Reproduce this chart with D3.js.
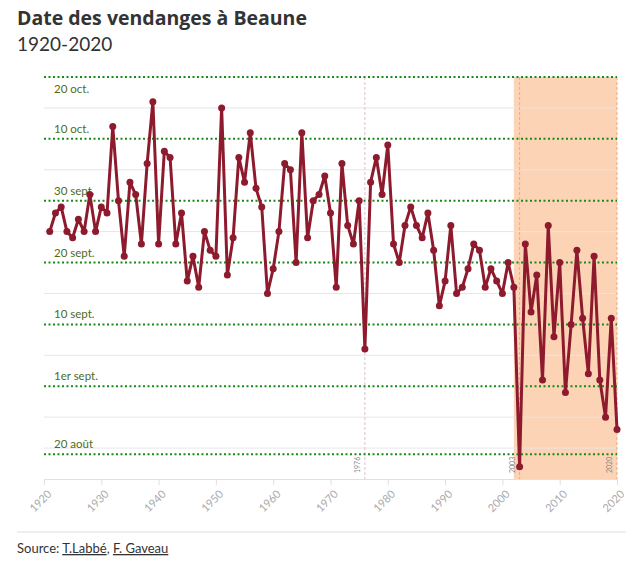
<!DOCTYPE html>
<html>
<head>
<meta charset="utf-8">
<script src="https://cdn.jsdelivr.net/npm/d3@7"></script>
<style>
  body { margin: 0; background: #fff; font-family: Lato, "Noto Sans", sans-serif; }
  svg text { font-family: Lato, "Noto Sans", sans-serif; }
</style>
</head>
<body>
<svg id="chart" width="633" height="565"></svg>
<script>
// harvest date, in days after 31 August
let years = d3.range(1921, 2021)
let days = [
  25, 28, 29, 25, 24, 27, 25, 31, 25, 29,
  28, 42, 30, 21, 33, 31, 23, 36, 46, 23,
  38, 37, 23, 28, 17, 21, 16, 25, 22, 21,
  45, 18, 24, 37, 33, 41, 32, 29, 15, 19,
  25, 36, 35, 20, 41, 24, 30, 31, 34, 28,
  16, 36, 26, 23, 30, 6, 33, 37, 31, 39,
  23, 20, 26, 29, 26, 24, 28, 22, 13, 17,
  26, 15, 16, 19, 23, 22, 16, 19, 17, 15,
  20, 16, -13, 23, 12, 18, 1, 26, 8, 20,
  -1, 10, 22, 11, 2, 21, 1, -5, 11, -7
]
let data = years.map((y, i) => ({year: y, day: days[i]}))

let dateLabels = ['20 oct.', '10 oct.', '30 sept.', '20 sept.', '10 sept.', '1er sept.', '20 août']
let dateValues = [50, 40, 30, 20, 10, 0, -11]
let gridValues = [45, 35, 25, 15, 5, -5, -10]
let xTicks = d3.range(1920, 2021, 10)
let markedYears = [1976, 2003, 2020]
let recentRange = [2002, 2020]

let svg = d3.select('#chart')

let x = d3.scaleLinear().domain([1920, 2020]).range([44, 617])
let y = d3.scaleLinear().domain([-15, 50]).range([479, 77])

// title
svg.append('text').attr('x', 17).attr('y', 25)
  .style('font-family', '"Open Sans", Lato, sans-serif')
  .style('font-size', '19.5px').style('font-weight', 700).attr('fill', '#333')
  .text('Date des vendanges à Beaune')
svg.append('text').attr('x', 17).attr('y', 51)
  .style('font-size', '19px').attr('fill', '#333')
  .text('1920-2020')

// shaded recent period
svg.append('rect')
  .attr('x', x(recentRange[0])).attr('y', y(50))
  .attr('width', x(recentRange[1]) - x(recentRange[0]))
  .attr('height', y(-15) - y(50))
  .attr('fill', '#fdd3b6')

// gray grid
svg.selectAll('.grid').data(gridValues).enter().append('line')
  .attr('x1', x(1920)).attr('x2', x(2020))
  .attr('y1', d => y(d)).attr('y2', d => y(d))
  .attr('stroke', '#e6e6e6').attr('stroke-width', 1)

// marked years
svg.selectAll('.mark').data(markedYears).enter().append('line')
  .attr('x1', d => x(d)).attr('x2', d => x(d))
  .attr('y1', y(50)).attr('y2', y(-15))
  .attr('stroke', d => d > 2000 ? '#eba98c' : '#dcc3cb')
  .attr('stroke-width', 1).attr('stroke-dasharray', '3,2')

svg.selectAll('.markLabel').data(markedYears).enter().append('text')
  .attr('transform', d => `translate(${x(d) - 5},473) rotate(-90)`)
  .style('font-size', '7px').attr('fill', '#888')
  .text(d => d)

// date lines
svg.selectAll('.dateLine').data(dateValues).enter().append('line')
  .attr('x1', x(1920)).attr('x2', x(2020))
  .attr('y1', d => y(d)).attr('y2', d => y(d))
  .attr('stroke', '#178a17').attr('stroke-width', 2)
  .attr('stroke-dasharray', '2,2.5')

svg.selectAll('.dateLabel').data(dateValues).enter().append('text')
  .attr('x', 54)
  .attr('y', (d, i) => i === 0 ? y(d) + 16 : y(d) - 6)
  .style('font-size', '11.5px').attr('fill', '#4f6b1c')
  .text((d, i) => dateLabels[i])

// x axis
let xAxis = svg.append('g').attr('transform', `translate(0,${y(-15)})`)
  .call(d3.axisBottom(x).tickValues(xTicks).tickFormat(d3.format('d')).tickSize(6).tickSizeOuter(0))
xAxis.select('.domain').attr('stroke', '#e0e0e0')
xAxis.selectAll('.tick line').attr('stroke', '#e0e0e0')
xAxis.selectAll('.tick text')
  .attr('x', 0).attr('y', 0).attr('dy', '0.35em')
  .attr('transform', 'translate(5,13) rotate(-45)')
  .style('text-anchor', 'end').style('font-size', '11px')
  .attr('fill', '#aaa')

// line + points
let line = d3.line().x(d => x(d.year)).y(d => y(d.day))
svg.append('path').datum(data)
  .attr('d', line).attr('fill', 'none')
  .attr('stroke', '#8d1a2d').attr('stroke-width', 3)
  .attr('stroke-linejoin', 'round')

svg.selectAll('.dot').data(data).enter().append('circle')
  .attr('cx', d => x(d.year)).attr('cy', d => y(d.day))
  .attr('r', 3.5).attr('fill', '#8d1a2d')

// footer
svg.append('line').attr('x1', 17).attr('x2', 626).attr('y1', 532).attr('y2', 532)
  .attr('stroke', '#ddd')
let src = svg.append('text').attr('x', 17).attr('y', 553)
  .style('font-size', '13px').attr('fill', '#333')
src.append('tspan').text('Source: ')
src.append('tspan').style('text-decoration', 'underline').text('T.Labbé')
src.append('tspan').text(', ')
src.append('tspan').style('text-decoration', 'underline').text('F. Gaveau')
</script>
</body>
</html>
